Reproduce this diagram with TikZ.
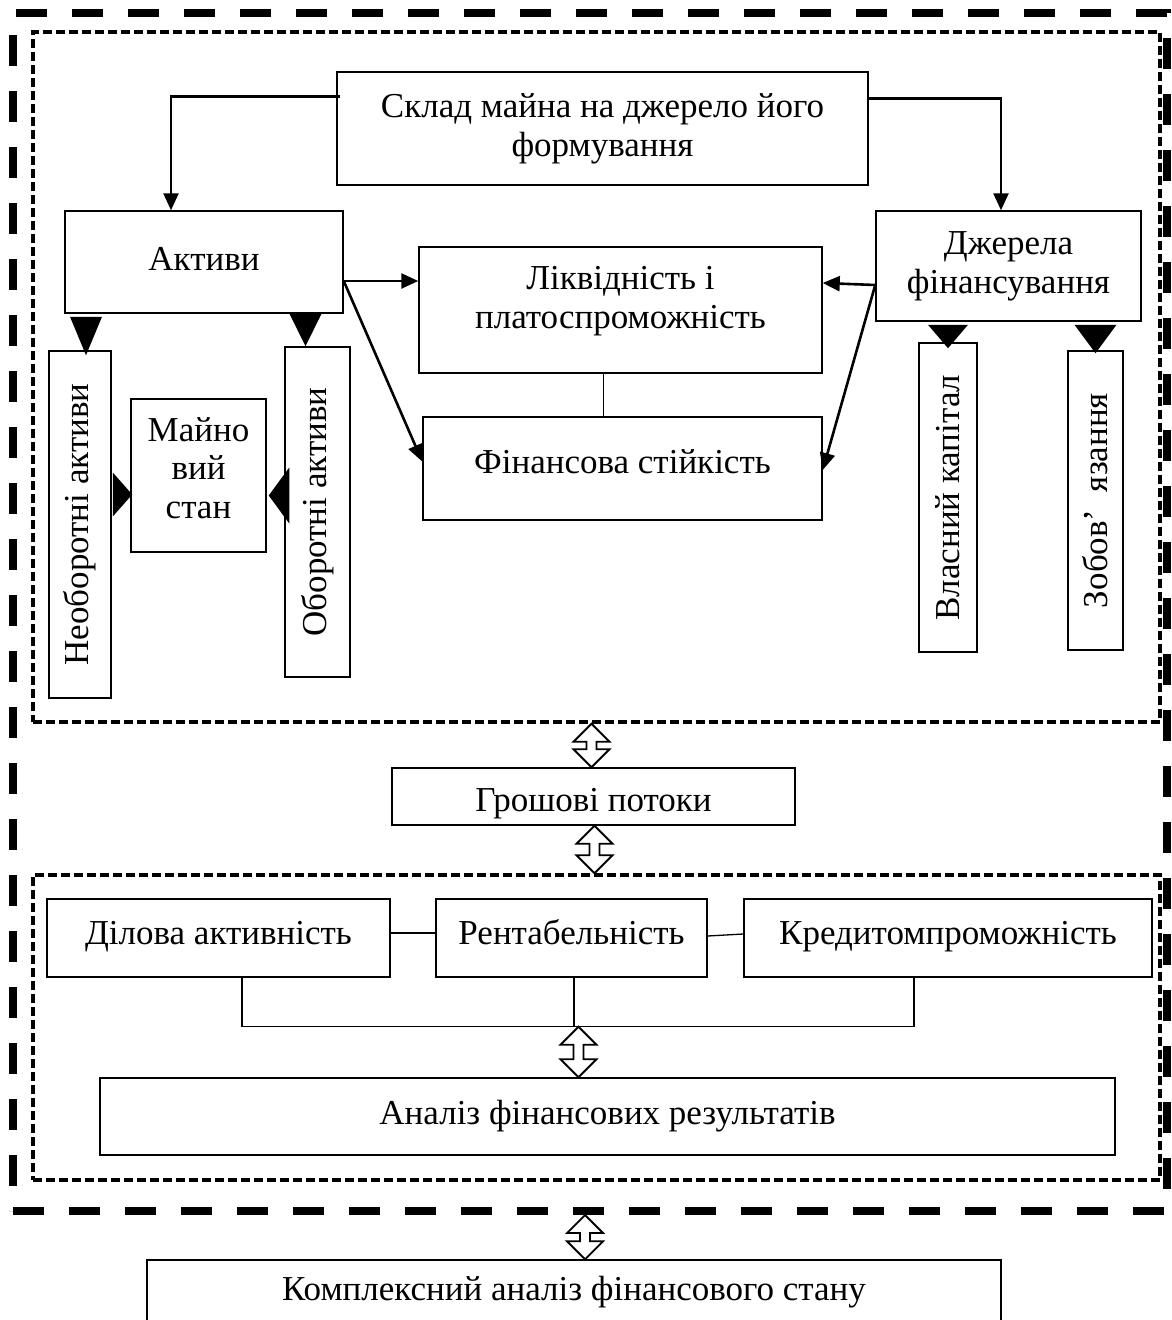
\documentclass[tikz,border=0pt]{standalone}
\usepackage{fontspec}
\setmainfont{Liberation Serif}
\usetikzlibrary{calc,arrows.meta}
\newcommand\dblarr[2]{\path[dbl] let \p1=(#1), \p2=(#2) in
  (\x1,\y1) -- (\x1+18pt,\y1-18pt) -- (\x1+5pt,\y1-18pt) -- (\x1+5pt,\y2+18pt)
  -- (\x1+18pt,\y2+18pt) -- (\x1,\y2) -- (\x1-18pt,\y2+18pt) -- (\x1-5pt,\y2+18pt)
  -- (\x1-5pt,\y1-18pt) -- (\x1-18pt,\y1-18pt) -- cycle;}
\newcommand\headdown[3]{\fill let \p1=(#1), \p2=(#2) in
  (\x1-#3,\y1) -- (\x1+#3,\y1) -- (\x1,\y2) -- cycle;}
\newcommand\headside[3]{\fill let \p1=(#1), \p2=(#2) in
  (\x1,\y1-#3) -- (\x1,\y1+#3) -- (\x2,\y1) -- cycle;}
\begin{document}
\begin{tikzpicture}[x=1pt,y=-1pt,
  box/.style={draw, line width=1.5pt, inner sep=0pt, align=center,
    font=\fontsize{35}{39}\selectfont},
  txt/.style={inner sep=0pt, align=center, font=\fontsize{35}{38.5}\selectfont},
  outerfr/.style={draw, line width=8pt, dash pattern=on 31pt off 25pt, inner sep=0pt},
  innerfr/.style={draw, line width=3.5pt, dash pattern=on 9pt off 4pt, inner sep=0pt},
  arr/.style={line width=2.6pt, -{Triangle[length=17pt,width=15pt]}},
  link/.style={line width=1.3pt},
  dbl/.style={draw, fill=white, line width=1.8pt, line join=miter},
]
\useasboundingbox (0,0) rectangle (1171,1320);
\clip (0,0) rectangle (1171,1320);

% frames
\node[outerfr, minimum width=1154pt, minimum height=1198pt] (outer) at (590,612) {};
\node[innerfr, minimum width=1127pt, minimum height=690pt] (fr1) at (596.5,377) {};
\node[innerfr, minimum width=1127pt, minimum height=305pt] (fr2) at (596.5,1027.5) {};

% upper block
\node[box, minimum width=531pt, minimum height=113pt] (sklad) at (602.5,128.5) {Склад майна на джерело його\\формування};
\node[box, minimum width=278pt, minimum height=102pt, text height=24pt, text depth=8pt] (aktyvy) at (204,262) {Активи};
\node[box, minimum width=265pt, minimum height=110pt] (dzherela) at (1008.5,266) {Джерела\\фінансування};
\node[box, minimum width=403pt, minimum height=126pt] (likv) at (620.5,310) {};
\node[txt] (likvt) at (620.5,301) {Ліквідність і\\платоспроможність};
\node[box, minimum width=399pt, minimum height=103pt, text height=24pt, text depth=15pt] (fin) at (622.5,468.5) {Фінансова стійкість};
\node[box, minimum width=62pt, minimum height=347pt] (neob) at (80,524.5) {};
\node[txt, rotate=90] (neobt) at (neob.center) {Необоротні активи};
\node[box, minimum width=65pt, minimum height=330pt] (ob) at (317.5,512) {};
\node[txt, rotate=90] (obt) at (ob.center) {Оборотні активи};
\node[box, minimum width=135pt, minimum height=153pt] (mayno) at (198.5,475.5) {};
\node[txt] (maynot) at (198.5,468) {Майно\\вий\\стан};
\node[box, minimum width=58pt, minimum height=309pt] (vlasn) at (948,497.5) {};
\node[txt, rotate=90] (vlasnt) at (vlasn.center) {Власний капітал};
\node[box, minimum width=55pt, minimum height=299pt] (zob) at (1095.5,500.5) {};
\node[txt, rotate=90] (zobt) at (zob.center) {Зобов’\hspace{0.5em}язання};

% middle
\node[box, minimum width=403pt, minimum height=57pt, text height=30pt, text depth=0pt] (hroshovi) at (593.5,796.5) {Грошові потоки};

% lower block
\node[box, minimum width=343pt, minimum height=78pt, text height=24pt, text depth=11pt] (dilova) at (218.5,938) {Ділова активність};
\node[box, minimum width=271pt, minimum height=78pt, text height=24pt, text depth=11pt] (rent) at (571.5,938) {Рентабельність};
\node[box, minimum width=408pt, minimum height=78pt, text height=24pt, text depth=11pt] (kred) at (948,938) {Кредитомпроможність};
\node[box, minimum width=1015pt, minimum height=77pt] (analiz) at (607.5,1116.5) {Аналіз фінансових результатів};

% bottom
\node[box, minimum width=854pt, minimum height=80pt] (kompl) at (574,1300) {};
\node[txt] (komplt) at (574,1292) {Комплексний аналіз фінансового стану};

% thin arrows
\draw[arr] ($(sklad.north west)+(4,25)$) -| ($(aktyvy.north)+(-33,0)$);
\draw[arr] ($(sklad.north east)+(-1,27)$) -| ($(dzherela.north)+(-7.5,0)$);
\draw[arr] ($(aktyvy.east)+(0,19)$) -- ($(likv.west)+(0,-29)$);
\draw[arr] ($(aktyvy.east)+(0,19)$) -- ($(fin.west)+(0,-7)$);
\draw[arr] ($(dzherela.west)+(0,19)$) -- ($(likv.east)+(0,-27)$);
\draw[arr] ($(dzherela.west)+(0,19)$) -- ($(fin.east)+(0,1.5)$);
\draw[link] ($(likv.south)+(-17,0)$) -- ($(fin.north)+(-19,0)$);

% big heads
\headdown{$(neob.north|-aktyvy.south)+(6,3)$}{$(neob.north)+(6,5)$}{16pt}
\headdown{$(ob.north|-aktyvy.south)+(-12,0)$}{$(ob.north)+(-12,0)$}{16pt}
\headside{$(neob.east|-mayno.west)+(1,19)$}{$(mayno.west)+(2,19)$}{22pt}
\headside{$(ob.west|-mayno.east)+(5,20)$}{$(mayno.east)+(2,20)$}{28pt}
\headdown{$(vlasn.north|-dzherela.south)+(0,3)$}{$(vlasn.north)+(0,6)$}{20pt}
\headdown{$(zob.north|-dzherela.south)+(0,3)$}{$(zob.north)+(0,3)$}{21pt}

% lower links
\draw[link] ($(dilova.east)+(0,-5)$) -- ($(rent.west)+(0,-5)$);
\draw[link] ($(rent.east)+(0,-2)$) -- ($(kred.west)+(0,-4)$);
\draw[link] ($(dilova.south)+(23.5,0)$) |- ($(kred.south)+(-34,49)$) -- ($(kred.south)+(-34,0)$);
\draw[link] ($(rent.south)+(2.5,0)$) -- ($(rent.south)+(2.5,49)$);
\coordinate (junc) at ($(rent.south)+(7,49)$);

% double arrows
\dblarr{$(fr1.south)+(-5,0)$}{hroshovi.north}
\dblarr{$(hroshovi.south)+(1,0)$}{fr2.north}
\dblarr{junc}{analiz.north}
\dblarr{$(outer.south)+(-5,0)$}{kompl.north}
\end{tikzpicture}
\end{document}
